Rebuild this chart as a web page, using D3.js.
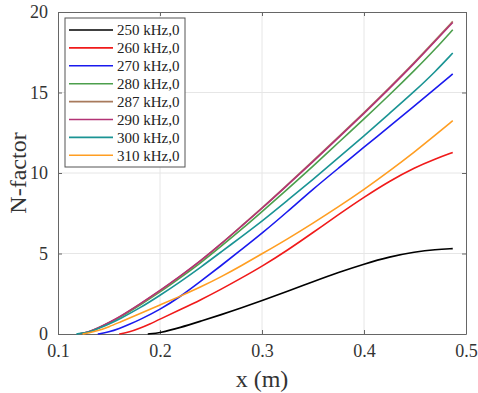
<!DOCTYPE html>
<html>
<head>
<meta charset="utf-8">
<script src="https://cdn.jsdelivr.net/npm/d3@7"></script>
<style>
  body { margin: 0; background: #fff; }
  svg { display: block; }
  .tick text { font-family: "Liberation Serif", serif; font-size: 18px; fill: #333; }
</style>
</head>
<body>
<div id="chart"></div>
<script>
// series labels and colours
const seriesNames = ["250 kHz,0", "260 kHz,0", "270 kHz,0", "280 kHz,0", "287 kHz,0", "290 kHz,0", "300 kHz,0", "310 kHz,0"];
const seriesColors = ["#000000", "#f01a1a", "#1a1aee", "#4c9f4c", "#a87a5c", "#b33375", "#1a9494", "#ff9e22"];

// x positions (m) and N-factor values
const x250 = [0.188, 0.2, 0.22, 0.24, 0.26, 0.28, 0.3, 0.325, 0.35, 0.375, 0.4, 0.425, 0.45, 0.47, 0.487];
const n250 = [0, 0.07, 0.4, 0.8, 1.2, 1.62, 2.08, 2.65, 3.25, 3.83, 4.35, 4.8, 5.1, 5.25, 5.3];

const x260 = [0.16, 0.17, 0.18, 0.19, 0.2, 0.22, 0.24, 0.26, 0.28, 0.3, 0.325, 0.35, 0.375, 0.4, 0.425, 0.45, 0.47, 0.487];
const n260 = [0, 0.12, 0.35, 0.62, 0.92, 1.52, 2.12, 2.78, 3.48, 4.2, 5.2, 6.3, 7.42, 8.5, 9.5, 10.35, 10.88, 11.28];

const x270 = [0.139, 0.15, 0.16, 0.17, 0.18, 0.2, 0.22, 0.24, 0.26, 0.28, 0.3, 0.325, 0.35, 0.375, 0.4, 0.425, 0.45, 0.47, 0.487];
const n270 = [0, 0.12, 0.33, 0.6, 0.88, 1.52, 2.32, 3.28, 4.25, 5.25, 6.25, 7.6, 9.0, 10.3, 11.6, 12.9, 14.2, 15.25, 16.15];

const xMain = [0.12, 0.13, 0.14, 0.15, 0.16, 0.18, 0.2, 0.22, 0.24, 0.26, 0.28, 0.3, 0.325, 0.35, 0.375, 0.4, 0.425, 0.45, 0.47, 0.487];
const n280 = [0, 0.1, 0.36, 0.68, 1.0, 1.78, 2.6, 3.5, 4.42, 5.45, 6.5, 7.6, 9.0, 10.42, 11.9, 13.35, 14.85, 16.4, 17.7, 18.9];
const n287 = [0, 0.11, 0.38, 0.7, 1.03, 1.83, 2.68, 3.58, 4.55, 5.6, 6.72, 7.82, 9.28, 10.75, 12.25, 13.75, 15.3, 16.9, 18.25, 19.42];
const n290 = [0, 0.12, 0.4, 0.72, 1.05, 1.85, 2.7, 3.6, 4.55, 5.6, 6.7, 7.8, 9.25, 10.7, 12.2, 13.7, 15.25, 16.85, 18.2, 19.35];

const x300 = [0.118, 0.125, 0.13, 0.14, 0.15, 0.16, 0.18, 0.2, 0.22, 0.24, 0.26, 0.28, 0.3, 0.325, 0.35, 0.375, 0.4, 0.425, 0.45, 0.47, 0.487];
const n300 = [0, 0.05, 0.12, 0.35, 0.62, 0.92, 1.6, 2.4, 3.25, 4.15, 5.1, 6.05, 7.0, 8.3, 9.6, 10.95, 12.3, 13.7, 15.1, 16.3, 17.45];

const x310 = [0.124, 0.13, 0.14, 0.15, 0.16, 0.18, 0.2, 0.22, 0.24, 0.26, 0.28, 0.3, 0.325, 0.35, 0.375, 0.4, 0.425, 0.45, 0.47, 0.487];
const n310 = [0, 0.06, 0.22, 0.45, 0.72, 1.25, 1.8, 2.35, 2.92, 3.55, 4.25, 4.98, 5.9, 6.88, 7.9, 8.97, 10.12, 11.33, 12.35, 13.25];

const xTicks = [0.1, 0.2, 0.3, 0.4, 0.5];
const yTicks = [0, 5, 10, 15, 20];

const series = [
  [x250, n250], [x260, n260], [x270, n270], [xMain, n280],
  [xMain, n287], [xMain, n290], [x300, n300], [x310, n310]
].map((s, i) => ({
  name: seriesNames[i],
  color: seriesColors[i],
  points: s[0].map((x, j) => [x, s[1][j]])
}));

const W = 478, H = 393;
const margin = {top: 12, right: 12, bottom: 59, left: 58};
const w = W - margin.left - margin.right;
const h = H - margin.top - margin.bottom;

const svg = d3.select("#chart").append("svg").attr("width", W).attr("height", H);
const g = svg.append("g").attr("transform", "translate(" + margin.left + "," + margin.top + ")");

const xScale = d3.scaleLinear().domain([0.1, 0.5]).range([0, w]);
const yScale = d3.scaleLinear().domain([0, 20]).range([h, 0]);

// grid
g.append("g").selectAll("line").data(xTicks.slice(1, -1)).join("line")
  .attr("x1", d => xScale(d)).attr("x2", d => xScale(d))
  .attr("y1", 0).attr("y2", h)
  .attr("stroke", "#e6e6e6").attr("stroke-width", 1);
g.append("g").selectAll("line").data(yTicks.slice(1, -1)).join("line")
  .attr("y1", d => yScale(d)).attr("y2", d => yScale(d))
  .attr("x1", 0).attr("x2", w)
  .attr("stroke", "#e6e6e6").attr("stroke-width", 1);

// axes: ticks pointing inward, box on all sides
const fmtX = d3.format(".1f");
const styleAxis = sel => {
  sel.select(".domain").attr("stroke", "#666");
  sel.selectAll(".tick line").attr("stroke", "#666");
};
g.append("g").attr("transform", "translate(0," + h + ")")
  .call(d3.axisBottom(xScale).tickValues(xTicks).tickFormat(fmtX).tickSizeInner(-4).tickSizeOuter(0).tickPadding(10))
  .call(styleAxis);
g.append("g")
  .call(d3.axisLeft(yScale).tickValues(yTicks).tickSizeInner(-4).tickSizeOuter(0).tickPadding(10))
  .call(styleAxis);
g.append("g")
  .call(d3.axisTop(xScale).tickValues(xTicks).tickFormat("").tickSizeInner(-4).tickSizeOuter(0))
  .call(styleAxis);
g.append("g").attr("transform", "translate(" + w + ",0)")
  .call(d3.axisRight(yScale).tickValues(yTicks).tickFormat("").tickSizeInner(-4).tickSizeOuter(0))
  .call(styleAxis);

// curves
const line = d3.line().curve(d3.curveBasis).x(d => xScale(d[0])).y(d => yScale(d[1]));
g.append("g").selectAll("path").data(series).join("path")
  .attr("d", d => line(d.points))
  .attr("fill", "none")
  .attr("stroke", d => d.color)
  .attr("stroke-width", 1.6);

// axis labels
svg.append("text")
  .attr("x", margin.left + w / 2).attr("y", 387)
  .attr("text-anchor", "middle")
  .style("font-family", "Liberation Serif, serif").style("font-size", "24px").attr("fill", "#333")
  .text("x (m)");
svg.append("text")
  .attr("transform", "translate(26," + (margin.top + h / 2) + ") rotate(-90)")
  .attr("text-anchor", "middle")
  .style("font-family", "Liberation Serif, serif").style("font-size", "24px").attr("fill", "#333")
  .text("N-factor");

// legend
const leg = svg.append("g").attr("transform", "translate(65,18)");
leg.append("rect").attr("width", 120).attr("height", 149)
  .attr("fill", "#fff").attr("stroke", "#555").attr("stroke-width", 1);
const rows = leg.selectAll("g.row").data(series).join("g")
  .attr("class", "row")
  .attr("transform", (d, i) => "translate(0," + (12 + i * 17.9) + ")");
rows.append("line").attr("x1", 4).attr("x2", 48)
  .attr("stroke", d => d.color).attr("stroke-width", 1.6);
rows.append("text").attr("x", 52).attr("dy", "0.35em")
  .style("font-family", "Liberation Serif, serif").style("font-size", "15px").attr("fill", "#222")
  .text(d => d.name);
</script>
</body>
</html>
